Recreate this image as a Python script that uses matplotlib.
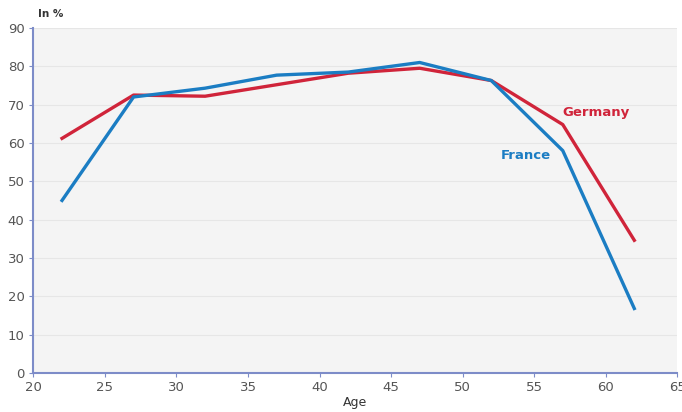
import matplotlib
matplotlib.use("Agg")
import matplotlib.pyplot as plt

# data
ages = [22, 27, 32, 37, 42, 47, 52, 57, 62]
france = [45, 72, 74.3, 77.7, 78.5, 81, 76.3, 58, 16.8]
germany = [61.2, 72.5, 72.2, 75.2, 78.2, 79.5, 76.3, 64.8, 34.6]

x_ticks = [20, 25, 30, 35, 40, 45, 50, 55, 60, 65]
y_ticks = [0, 10, 20, 30, 40, 50, 60, 70, 80, 90]

RED = "#d0243a"
BLUE = "#1b7dc3"
AXIS = "#7d8cc8"
TXT = "#555555"

fig = plt.figure(figsize=(6.82, 4.12), dpi=100)
ax = fig.add_axes([0.049, 0.095, 0.944, 0.837])
ax.set_facecolor("#f4f4f4")

# horizontal grid
for y in y_ticks[1:]:
    ax.axhline(y, color="#e6e6e6", lw=0.8, zorder=0)

ax.plot(ages, germany, color=RED, lw=2.4, zorder=3)
ax.plot(ages, france, color=BLUE, lw=2.4, zorder=4)

ax.text(59.3, 67.9, "Germany", color=RED, fontsize=9.5, fontweight="bold",
        ha="center", va="center")
ax.text(54.4, 56.8, "France", color=BLUE, fontsize=9.5, fontweight="bold",
        ha="center", va="center")

ax.set_xlim(20, 65)
ax.set_ylim(0, 90)
ax.set_xticks(x_ticks)
ax.set_yticks(y_ticks)
ax.tick_params(axis="both", colors=AXIS, labelcolor=TXT, labelsize=9.5,
               length=3, width=0.8)
ax.tick_params(axis="x", pad=3)

for side in ("top", "right"):
    ax.spines[side].set_visible(False)
for side in ("left", "bottom"):
    ax.spines[side].set_color(AXIS)
    ax.spines[side].set_linewidth(1.5)

fig.text(0.056, 0.965, "In %", fontsize=7.5, fontweight="bold", color="#333333",
         ha="left", va="center")
fig.text(0.52, 0.022, "Age", fontsize=9, color="#333333", ha="center", va="center")

fig.savefig("out.png", dpi=100)
